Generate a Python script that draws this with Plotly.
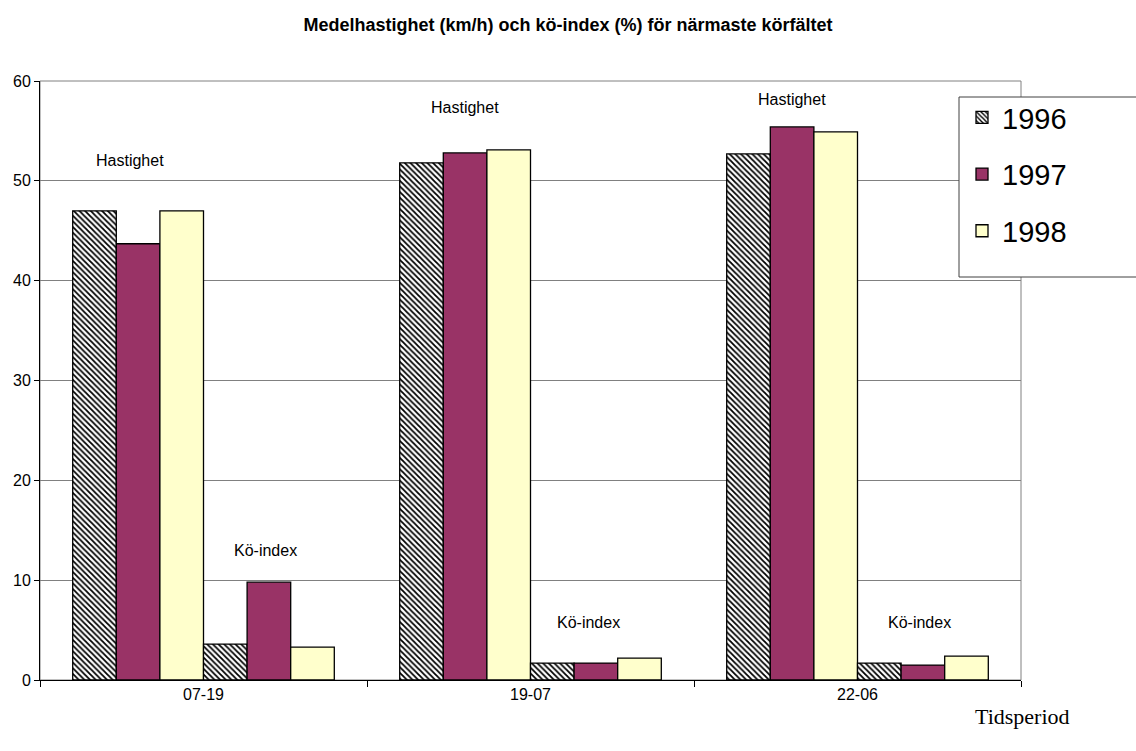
import plotly.graph_objects as go

# Time periods (x categories) and years (series)
periods = ["07-19", "19-07", "22-06"]
years = ["1996", "1997", "1998"]

# Mean speed (km/h) per period
hast_1996 = [47.0, 51.8, 52.7]
hast_1997 = [43.7, 52.8, 55.4]
hast_1998 = [47.0, 53.1, 54.9]

# Queue index (%) per period
ko_1996 = [3.6, 1.7, 1.7]
ko_1997 = [9.8, 1.7, 1.5]
ko_1998 = [3.3, 2.2, 2.4]

y_ticks = [0, 10, 20, 30, 40, 50, 60]

# Placement of the group labels (data units / pixel nudges)
hast_label_y = [52.0, 57.3, 58.1]
ko_label_y = [13.0, 5.8, 5.8]
hast_label_dx = [-8, 0, 0]
ko_label_dx = [-3, -7, -3]

FONT = "Liberation Sans, Arial, sans-serif"

# Plot-area pixel geometry
L, R, T, B = 40, 1021, 81, 680
W, H = 1136, 751
PW, PH = R - L, B - T


def px_x(px):
    return (px - L) / PW


def px_y(py):
    return (B - py) / PH


styles = {
    "1996": dict(color="white",
                 pattern=dict(shape="\\", fgcolor="black", bgcolor="white",
                              size=4, solidity=0.45, fillmode="replace")),
    "1997": dict(color="#993366"),
    "1998": dict(color="#FFFFCC"),
}

fig = go.Figure()

hast_series = {"1996": hast_1996, "1997": hast_1997, "1998": hast_1998}
ko_series = {"1996": ko_1996, "1997": ko_1997, "1998": ko_1998}

for yr in years:
    fig.add_trace(go.Bar(
        x=periods, y=hast_series[yr], name=yr, legendgroup=yr,
        offsetgroup="h" + yr,
        marker=dict(**styles[yr], line=dict(color="black", width=1.3)),
        showlegend=True,
    ))
for yr in years:
    fig.add_trace(go.Bar(
        x=periods, y=ko_series[yr], name=yr, legendgroup=yr,
        offsetgroup="k" + yr,
        marker=dict(**styles[yr], line=dict(color="black", width=1.3)),
        showlegend=False,
    ))

annotations = []
for i in range(len(periods)):
    annotations.append(dict(x=i - 0.2, y=hast_label_y[i], xref="x", yref="y",
                            xshift=hast_label_dx[i],
                            text="Hastighet", showarrow=False,
                            font=dict(family=FONT, size=16, color="black")))
    annotations.append(dict(x=i + 0.2, y=ko_label_y[i], xref="x", yref="y",
                            xshift=ko_label_dx[i],
                            text="Kö-index", showarrow=False,
                            font=dict(family=FONT, size=16, color="black")))

annotations.append(dict(x=px_x(1022), y=px_y(716), xref="paper", yref="paper",
                        text="Tidsperiod", showarrow=False,
                        xanchor="center", yanchor="middle",
                        font=dict(family="Liberation Serif, Times New Roman, serif",
                                  size=22, color="black")))

fig.update_layout(
    width=W, height=H,
    margin=dict(l=L, r=W - R, t=T, b=H - B),
    paper_bgcolor="white", plot_bgcolor="white",
    barmode="group", bargap=0.2, bargroupgap=0,
    title=dict(text="<b>Medelhastighet (km/h) och kö-index (%) för närmaste körfältet</b>",
               x=0.5, xanchor="center", y=1 - 25 / H, yanchor="middle",
               font=dict(family=FONT, size=18, color="black")),
    font=dict(family=FONT, size=16, color="black"),
    showlegend=True,
    legend=dict(x=px_x(962), y=px_y(92), xanchor="left", yanchor="top",
                bgcolor="rgba(0,0,0,0)", borderwidth=0,
                font=dict(family=FONT, size=29, color="black"),
                traceorder="grouped", tracegroupgap=16),
    annotations=annotations,
    shapes=[
        # plot-area frame
        dict(type="rect", xref="paper", yref="paper", x0=0, x1=1, y0=0, y1=1,
             line=dict(color="#808080", width=1), layer="below"),
        # legend box
        dict(type="rect", xref="paper", yref="paper",
             x0=px_x(959), x1=px_x(1145), y0=px_y(277), y1=px_y(97),
             fillcolor="white", line=dict(color="#404040", width=1), layer="above"),
    ],
)

fig.update_xaxes(
    type="category", showline=True, linecolor="black", linewidth=1,
    ticks="outside", tickson="boundaries", ticklen=6, tickcolor="black",
    showgrid=False, tickfont=dict(family=FONT, size=16, color="black"),
)
fig.update_yaxes(
    range=[0, 60], tickvals=y_ticks, showline=True, linecolor="black", linewidth=1,
    ticks="outside", ticklen=5, tickcolor="black",
    showgrid=True, gridcolor="#808080", gridwidth=1, zeroline=False,
    tickfont=dict(family=FONT, size=16, color="black"),
)

fig.write_html("out.html")
